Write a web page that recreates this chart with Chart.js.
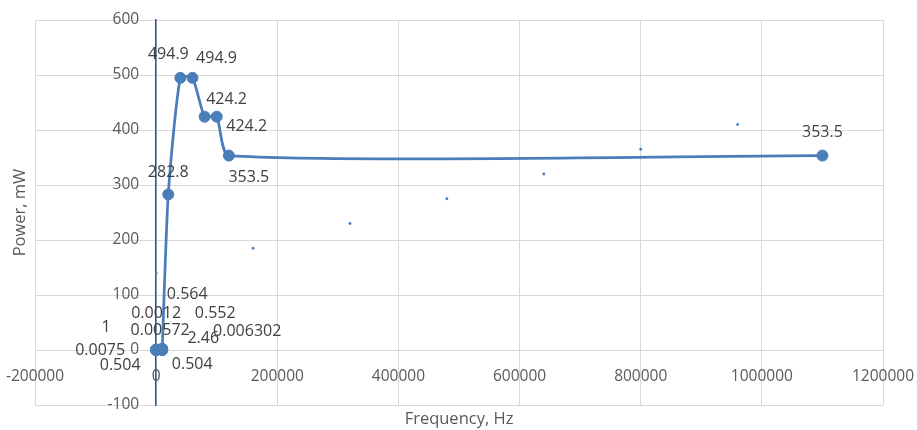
<!DOCTYPE html>
<html>
<head>
<meta charset="utf-8">
<title>Power vs Frequency</title>
<script src="https://cdn.jsdelivr.net/npm/chart.js@4.4.1/dist/chart.umd.min.js"></script>
<style>
  html, body { margin:0; padding:0; background:#fff; }
  #wrap { width:917px; height:430px; }
</style>
</head>
<body>
<div id="wrap"><canvas id="chart" width="917" height="430"></canvas></div>
<script>
// measured series (x = frequency in Hz, y = power in mW)
const powerFreq  = [0, 0, 0, 0, 0, 10000, 10000, 10000, 10000, 10000, 20000, 40000, 60000, 80000, 100000, 120000, 1100000];
const powerVals  = [1, 0.0075, 0.504, 0.0012, 0.00572, 0.564, 0.552, 0.006302, 2.46, 0.504, 282.8, 494.9, 494.9, 424.2, 424.2, 353.5, 353.5];

// second series: small dots, no line, no labels
const dotFreq = [0, 160000, 320000, 480000, 640000, 800000, 960000];
const dotVals = [140, 185, 230, 275, 320, 365, 410];

// axis ranges / ticks
const xRange = { min: -200000, max: 1200000, step: 200000 };
const yRange = { min: -100, max: 600, step: 100 };

// where each data label sits relative to its point (px) - layout only
const labelOffsets = [
  [-50,-22], [-56,0], [-36,16], [0,-37], [4,-20],
  [25,-55], [53,-36], [85,-19], [41,-10], [30,15],
  [0,-22], [-12,-23], [24,-19], [22,-17], [30,10], [20,22], [0,-23]
];

const blue = '#4A7EBB';
const axisBlue = '#2B5690';
const gridGrey = '#D9D9D9';
const txt = '#595959';
const FONT = '"Open Sans", sans-serif';

const toPts = (xs, ys) => xs.map((x, i) => ({ x, y: ys[i] }));

// a y axis placed at a value ignores ticks.padding; push its labels left of the line
const baseLabelItems = Chart.LinearScale.prototype._computeLabelItems;
Chart.LinearScale.prototype._computeLabelItems = function (area) {
  const items = baseLabelItems.call(this, area);
  const pos = this.options.position;
  if (this.axis === 'y' && pos && typeof pos === 'object') {
    const pad = this.options.ticks.padding || 0;
    items.forEach(it => { it.options.translation[0] -= pad; it.options.textAlign = 'right'; });
  }
  return items;
};

// keep the positioned axes from eating layout space
const noSpace = (s) => {
  if (s.isHorizontal()) s.height = 0; else s.width = 0;
  s.paddingLeft = s.paddingRight = s.paddingTop = s.paddingBottom = 0;
};

// draws the value labels next to points of dataset 0
const valueLabels = {
  id: 'valueLabels',
  afterDatasetsDraw(chart) {
    const ctx = chart.ctx;
    const meta = chart.getDatasetMeta(0);
    ctx.save();
    ctx.font = '16px ' + FONT;
    ctx.fillStyle = '#404040';
    ctx.textAlign = 'center';
    ctx.textBaseline = 'middle';
    meta.data.forEach((el, i) => {
      const o = labelOffsets[i] || [0, -20];
      ctx.fillText(String(powerVals[i]), el.x + o[0], el.y + o[1]);
    });
    ctx.restore();
  }
};

// axis titles (the axes themselves sit at x=0 / y=0)
const axisTitles = {
  id: 'axisTitles',
  afterDraw(chart) {
    const { ctx, chartArea: a } = chart;
    ctx.save();
    ctx.font = '16.5px ' + FONT;
    ctx.fillStyle = txt;
    ctx.textAlign = 'center';
    ctx.textBaseline = 'middle';
    ctx.fillText('Frequency, Hz', (a.left + a.right) / 2, 419);
    ctx.translate(20, (a.top + a.bottom) / 2);
    ctx.rotate(-Math.PI / 2);
    ctx.fillText('Power, mW', 0, 0);
    ctx.restore();
  }
};

new Chart(document.getElementById('chart'), {
  type: 'scatter',
  data: {
    datasets: [
      {
        label: 'Power',
        data: toPts(powerFreq, powerVals),
        showLine: true,
        borderColor: blue,
        backgroundColor: blue,
        borderWidth: 2.75,
        tension: 0.2,
        pointRadius: 5.5,
        pointBorderWidth: 1,
        pointBorderColor: blue,
        pointBackgroundColor: blue
      },
      {
        label: 'Points',
        data: toPts(dotFreq, dotVals),
        showLine: false,
        pointRadius: 1.4,
        pointBorderWidth: 0,
        pointBackgroundColor: blue
      }
    ]
  },
  options: {
    responsive: false,
    animation: false,
    layout: { padding: { left: 35, right: 34, top: 20, bottom: 25 } },
    plugins: { legend: { display: false }, tooltip: { enabled: false } },
    scales: {
      x: {
        type: 'linear',
        position: { y: 0 },
        min: xRange.min, max: xRange.max,
        afterFit: noSpace,
        ticks: {
          stepSize: xRange.step,
          color: txt,
          font: { family: FONT, size: 15.5 },
          padding: 17,
          maxRotation: 0,
          callback: v => String(v)
        },
        grid: { color: gridGrey, lineWidth: 1, drawTicks: false },
        border: { display: false }
      },
      y: {
        type: 'linear',
        position: { x: 0 },
        min: yRange.min, max: yRange.max,
        afterFit: noSpace,
        ticks: {
          stepSize: yRange.step,
          color: txt,
          font: { family: FONT, size: 15.5 },
          padding: 17,
          callback: v => String(v)
        },
        grid: { color: gridGrey, lineWidth: 1, drawTicks: false },
        border: { display: true, color: axisBlue, width: 1.5 }
      }
    }
  },
  plugins: [valueLabels, axisTitles]
});
</script>
</body>
</html>
